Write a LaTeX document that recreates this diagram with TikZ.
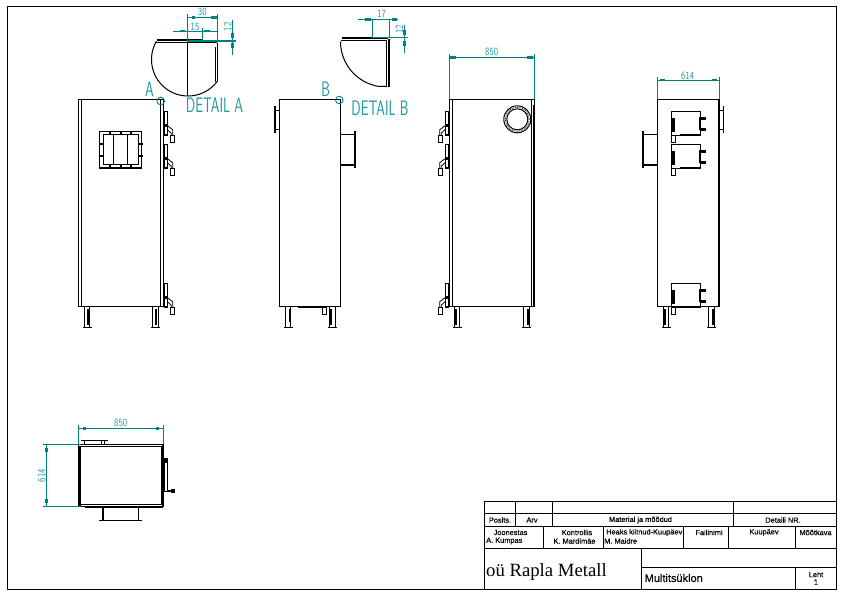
\documentclass[tikz,border=0pt]{standalone}
\usepackage{fontspec}
\setmainfont{Liberation Serif}
\newfontfamily\tbfont[FakeBold=0.3]{Liberation Sans}
\tikzset{
  ln/.style={draw=black,line width=1pt},
  thn/.style={draw=black,line width=.8pt},
  thk/.style={draw=black,line width=2pt},
  blk/.style={fill=black,draw=none},
  dimln/.style={draw=dimc,line width=.9pt},
  dimthk/.style={draw=dimc,line width=1.5pt},
  dimblk/.style={fill=dimc,draw=none},
  dimtxt/.style={text=dimtxtc,font=\sffamily\fontsize{11}{11}\selectfont,xscale=.8,inner sep=0pt},
  bigtxt/.style={text=dimtxtc,font=\sffamily\fontsize{21}{21}\selectfont,xscale=.66,inner sep=0pt},
  tb/.style={text=black,font=\tbfont\fontsize{7.4}{7.4}\selectfont,inner sep=0pt},
  pics/hingeunit/.style={code={
    \draw[ln] (0,0) rectangle (3.5,23.3);
    \fill[blk] (0,12.3) rectangle (4,15.3);
    \fill[blk] (0,21.8) rectangle (4,23.8);
    \draw[thn] (3.5,14) -- (8.7,18) -- (8.7,24);
    \draw[thn] (3.5,18) -- (7.2,21.5) -- (7.2,24);
    \draw[ln] (6.3,24) rectangle (10.3,30.8);
  }},
  pics/sidebox/.style={code={
    \draw[ln] (0,0) rectangle (29.4,24);
    \fill[blk] (.7,6.7) rectangle (3.7,20.5);
    \fill[blk] (8.7,23) rectangle (28.5,24.6);
    \fill[blk] (27.3,6) rectangle (28.7,19);
    \fill[blk] (28.7,6) rectangle (35,8.6);
    \fill[blk] (28.7,16.6) rectangle (35,19.2);
    \draw[ln] (0,24) rectangle (4,31);
  }},
  pics/legunit/.style={code={
    \draw[ln] (0,0) -- (0,20.5);
    \draw[ln] (5.5,0) -- (5.5,20.5);
    \draw[ln] (-1.5,20.5) -- (7.5,20.5);
  }},
}
\definecolor{dimc}{HTML}{008080}
\definecolor{dimtxtc}{HTML}{1F9AA0}
\begin{document}
\begin{tikzpicture}[x=1pt,y=-1pt]
\useasboundingbox (0,0) rectangle (842,595);
\fill[white] (0,0) rectangle (842,595);
% sheet frame
\draw[ln] (7,589.5) -- (7,6.5) -- (836,6.5) -- (836,589.5) -- cycle;

% ---------- title block
\draw[ln] (484.5,589.5) -- (484.5,501.5) -- (836,501.5);
\draw[ln] (484.5,513.5) -- (836,513.5);
\draw[ln] (484.5,526) -- (836,526);
\draw[ln] (484.5,548) -- (836,548);
\draw[ln] (641,567.5) -- (836,567.5);
\foreach \xx in {515.5,552,733.5} \draw[ln] (\xx,501.5) -- (\xx,526);
\foreach \xx in {543.5,603,683,728.5,795} \draw[ln] (\xx,526) -- (\xx,548);
\draw[ln] (641,548) -- (641,589.5);
\draw[ln] (795,567.5) -- (795,589.5);
\node[tb] (t1) at (500,520) {Posits.};
\node[tb] (t2) at (532,520) {Arv};
\node[tb] (t3) at (640.5,520) {Material ja mõõdud};
\node[tb] (t4) at (783,520) {Detaili NR.};
\node[tb] (t5) at (510.5,532.5) {Joonestas};
\node[tb,anchor=west] (t6) at (486,541) {A. Kumpas};
\node[tb] (t7) at (577,532.5) {Kontrollis};
\node[tb] (t8) at (574.5,541) {K. Mardimäe};
\node[tb,anchor=west] (t9) at (606,532.5) {Heaks kiitnud-Kuupäev};
\node[tb,anchor=west] (t10) at (604,541) {M. Maidre};
\node[tb] (t11) at (709,532.5) {Failinimi};
\node[tb] (t12) at (764,532.5) {Kuupäev};
\node[tb] (t13) at (815.5,532.5) {Mõõtkava};
\node[tb] (t14) at (816,574.5) {Leht};
\node[tb] (t15) at (816,582) {1};
\node[anchor=west,inner sep=0pt,font=\fontsize{18.7}{18.7}\selectfont] (t16) at (486,571.5) {oü Rapla Metall};
\node[tb,anchor=west,font=\tbfont\fontsize{11}{11}\selectfont] (t17) at (644.5,578) {Multitsüklon};

% ---------- view 1
\draw[ln] (78.5,306.5) rectangle (163,99.5);
\draw[ln] (81.5,99.5) -- (81.5,306.5);
\draw[ln] (160.5,99.5) -- (160.5,306.5);
\pic at (84,306.5) {legunit};
\pic at (152.5,306.5) {legunit};
\draw[thk] (88,309) -- (88,325);
\draw[thk] (156,309) -- (156,325);
% window
\draw[ln,line width=1.4pt] (99.5,131.5) rectangle (141.5,168);
\draw[ln] (103.3,134.5) rectangle (138.3,164);
\draw[ln] (113.3,134.5) -- (113.3,164);
\draw[ln] (127.7,134.5) -- (127.7,164);
\foreach \xx in {110,120.5,131}{\fill[blk] (\xx-1,130.5) rectangle (\xx+1,134.5);\fill[blk] (\xx-1,164.5) rectangle (\xx+1,168.5);}
\foreach \yy in {143.5,155.5}{\fill[blk] (98.5,\yy-1) rectangle (102.5,\yy+1);\fill[blk] (138.5,\yy-1) rectangle (142.5,\yy+1);}
\pic at (164,111.7) {hingeunit};
\pic at (164,144.7) {hingeunit};
\pic at (164,283.7) {hingeunit};
% labels
\node[bigtxt] (lblA) at (149.5,89.5) {A};
\draw[dimln] (160.7,101) circle[radius=3.8];
\node[bigtxt] (detA) at (214.5,105) {DETAIL A};

% ---------- detail A
\draw[thk] (156.7,40) -- (201.7,40);
\draw[ln] (155,42.5) -- (217.3,42.5);
\draw[ln] (187.3,42.5) -- (187.3,96);
\draw[ln] (217.3,42.5) -- (217.3,81);
\draw[ln] (215,47) -- (215,82);
\draw[ln] plot[domain=210:36,samples=40,smooth] ({188+36.5*cos(\x)},{59.5+36.5*sin(\x)});
% dims A
\draw[dimln] (187.3,42) -- (187.3,14);
\draw[dimln] (217.3,42) -- (217.3,14);
\draw[dimln] (187.3,17.3) -- (217.3,17.3);
\fill[dimblk] (191.7,16) rectangle (195,18.6);
\fill[dimblk] (210.5,16) rectangle (216.7,18.6);
\node[dimtxt] (d30) at (202.3,12.3) {30};
\draw[dimln] (202.7,42) -- (202.7,28);
\draw[dimln] (173.3,31) -- (217,31);
\fill[dimblk] (180,29.7) rectangle (185,32.3);
\fill[dimblk] (204,29.7) rectangle (210,32.3);
\node[dimtxt] (d15) at (195,26.7) {15};
\draw[dimthk] (187,41) -- (235.7,41);
\draw[dimln] (232.3,20) -- (232.3,55);
\fill[dimblk] (231,33.3) rectangle (233.6,38.3);
\fill[dimblk] (231,43.3) rectangle (233.6,48.3);
\node[rotate=90,dimtxt] (d12a) at (227.7,26.7) {12};

% ---------- view 2
\draw[ln] (279.3,306.5) rectangle (340.5,99.5);
\draw[thk] (275,106) -- (275,132.7);
\draw[ln] (275,110) -- (279.3,110);
\draw[ln] (275,129.3) -- (279.3,129.3);
\draw[ln] (340.5,134.3) -- (355,134.3);
\draw[thk] (340.5,165) -- (355,165);
\draw[thk] (355,131) -- (355,168.3);
\pic at (285,306.5) {legunit};
\pic at (329.5,306.5) {legunit};
\draw[thk] (289.5,309) -- (289.5,322);
\draw[thk] (330.5,309) -- (330.5,325);
\draw[thk] (298.3,307.2) -- (326.7,307.2);
\draw[ln] (322.3,307) rectangle (326.7,314.3);
\node[bigtxt] (lblB) at (325.7,89.5) {B};
\draw[dimln] (339.3,100) circle[radius=3.8];
\node[bigtxt] (detB) at (380,108) {DETAIL B};

% ---------- detail B
\draw[thk] (341.7,37.7) -- (388.3,37.7);
\draw[ln] (341,40.5) -- (386.7,40.5);
\draw[ln] (386.5,40.5) -- (386.5,86.5);
\draw[thk] (388.7,39) -- (388.7,86.7);
\draw[ln] plot[domain=180:100,samples=25,smooth] ({386+45.5*cos(\x)},{41.5+45.5*sin(\x)}) -- (387,86.5);
\draw[dimln] (372.3,37.5) -- (372.3,19.3);
\draw[dimln] (389.3,37.5) -- (389.3,19.3);
\draw[dimln] (358.3,19.3) -- (398.3,19.3);
\fill[dimblk] (365,18) rectangle (370.7,20.6);
\fill[dimblk] (392.3,18) rectangle (397.3,20.6);
\node[dimtxt] (d17) at (381.7,14.3) {17};
\draw[dimthk] (372.3,37.7) -- (407.7,37.7);
\draw[dimln] (404.3,25) -- (404.3,52.7);
\fill[dimblk] (403,30) rectangle (405.6,35);
\fill[dimblk] (403,40.7) rectangle (405.6,46);
\node[rotate=90,dimtxt] (d12b) at (399.3,29.3) {12};

% ---------- view 3
\draw[ln] (449.3,306.5) rectangle (534.3,99.5);
\draw[ln] (452.7,99.5) -- (452.7,306.5);
\draw[ln] (531.7,99.5) -- (531.7,306.5);
\draw[thk] (534,105) -- (534,306.5);
\draw[ln] (517.3,119.3) circle[radius=10.5];
\draw[ln] (517.3,119.3) circle[radius=13.5];
\draw[thn,densely dotted] (517.3,119.3) circle[radius=12];
\pic at (454.3,306.5) {legunit};
\pic at (523.5,306.5) {legunit};
\draw[thk] (455.5,309) -- (455.5,325);
\draw[thk] (527.8,309) -- (527.8,325);
\pic[xscale=-1] at (448.5,111.7) {hingeunit};
\pic[xscale=-1] at (448.5,144.7) {hingeunit};
\pic[xscale=-1] at (448.5,283.7) {hingeunit};
\draw[dimln] (449.3,99) -- (449.3,54.3);
\draw[dimln] (534.3,99) -- (534.3,54.3);
\draw[dimln] (449.3,57.3) -- (534.3,57.3);
\fill[dimblk] (450,56) rectangle (456,58.6);
\fill[dimblk] (527,56) rectangle (533,58.6);
\node[dimtxt] (d850a) at (491.7,52.3) {850};

% ---------- view 4
\draw[ln] (657.3,306.5) rectangle (719,99.5);
\draw[thk] (719,99.5) -- (719,306.5);
\draw[ln] (642.7,134.3) -- (657.3,134.3);
\draw[thk] (642.7,165) -- (657.3,165);
\draw[thk] (642.7,131) -- (642.7,168.3);
\draw[ln] (719,110.7) -- (723.3,110.7);
\draw[ln] (719,129.3) -- (723.3,129.3);
\draw[ln] (723.3,106) -- (723.3,132.7);
\pic at (671.3,111.3) {sidebox};
\pic at (671.3,144.3) {sidebox};
\pic at (671.3,283.3) {sidebox};
\pic at (663.3,306.5) {legunit};
\pic at (708.5,306.5) {legunit};
\draw[thk] (664.5,309) -- (664.5,325);
\draw[thk] (713,309) -- (713,325);
\draw[dimln] (657.3,99) -- (657.3,77.3);
\draw[dimln] (719,99) -- (719,77.3);
\draw[dimln] (657.3,80) -- (719,80);
\fill[dimblk] (660,78.7) rectangle (665,81.3);
\fill[dimblk] (711.7,78.7) rectangle (716.7,81.3);
\node[dimtxt] (d614a) at (687.7,75.7) {614};

% ---------- view 5 (top)
\draw[ln] (78.7,444.3) rectangle (163.3,506.7);
\draw[ln] (80,446.7) rectangle (161,504.3);
\draw[thk] (79.5,446) -- (79.5,506);
\draw[thk] (85,506.5) -- (163.3,506.5);
\draw[thk] (163,444.3) -- (163,506.7);
\draw[ln] (81,440.3) -- (107.7,440.3);
\draw[ln] (84.3,440.3) -- (84.3,444.3);
\draw[ln] (101,440.3) -- (101,444.3);
\draw[ln] (104.7,440.3) -- (104.7,444.3);
\draw[thk] (102.7,506.7) -- (102.7,520);
\draw[ln] (138.3,506.7) -- (138.3,520);
\draw[ln] (99,520) -- (142.3,520);
\draw[ln] (164,458.3) rectangle (167.7,491.7);
\fill[blk] (163.5,458) rectangle (168.2,462.5);
\fill[blk] (167.7,489.5) rectangle (171,491.5);
\fill[blk] (171,488.5) rectangle (175,492.5);
\draw[dimln] (78.7,444) -- (78.7,425);
\draw[dimln] (163.3,444) -- (163.3,425);
\draw[dimln] (78.7,428.3) -- (163.3,428.3);
\fill[dimblk] (83.3,427) rectangle (86,429.6);
\fill[dimblk] (156,427) rectangle (158.5,429.6);
\node[dimtxt] (d850b) at (120.7,423.3) {850};
\draw[dimln] (43.3,444.3) -- (81,444.3);
\draw[dimln] (43.3,506.7) -- (81,506.7);
\draw[dimln] (46.7,444.3) -- (46.7,506.7);
\fill[dimblk] (45.4,448.3) rectangle (48,451.7);
\fill[dimblk] (45.4,499.3) rectangle (48,502.7);
\node[rotate=90,dimtxt] (d614b) at (41.7,475.7) {614};
\end{tikzpicture}
\end{document}
